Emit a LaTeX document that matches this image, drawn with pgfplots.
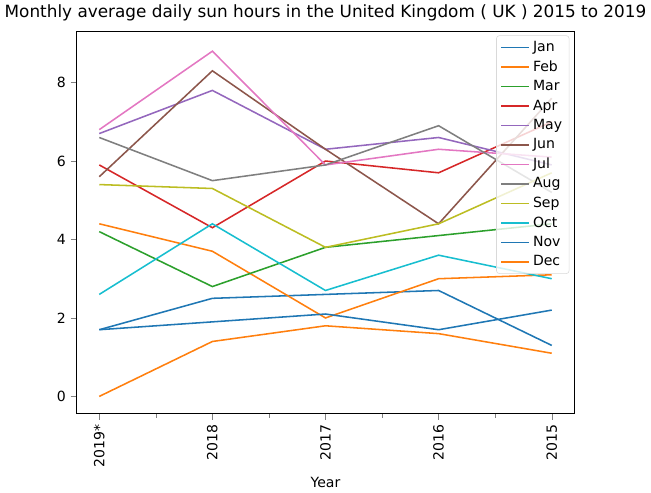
\documentclass[border=0pt]{standalone}
\usepackage{pgfplots}
\pgfplotsset{compat=1.18}
\usepackage{fontspec}
\setmainfont{DejaVu Sans}
\definecolor{c0}{HTML}{1F77B4}\definecolor{c1}{HTML}{FF7F0E}\definecolor{c2}{HTML}{2CA02C}
\definecolor{c3}{HTML}{D62728}\definecolor{c4}{HTML}{9467BD}\definecolor{c5}{HTML}{8C564B}
\definecolor{c6}{HTML}{E377C2}\definecolor{c7}{HTML}{7F7F7F}\definecolor{c8}{HTML}{BCBD22}
\definecolor{c9}{HTML}{17BECF}
\begin{document}
\begin{tikzpicture}
\begin{axis}[
  width=353bp, height=271bp, scale only axis,
  xmin=-0.2, xmax=4.2, ymin=-0.44, ymax=9.3,
  xtick={0,1,2,3,4}, xticklabels={2019*,2018,2017,2016,2015},
  minor xtick={0.5,1.5,2.5,3.5},
  xticklabel style={rotate=90, anchor=east},
  ytick={0,2,4,6,8},
  tick align=outside, tick pos=left,
  /pgf/number format/assume math mode=true,
  tick label style={font=\fontsize{10}{12}\selectfont},
  xlabel={Year}, xlabel style={font=\fontsize{10}{12}\selectfont},
  title={Monthly average daily sun hours in the United Kingdom ( UK ) 2015 to 2019},
  title style={font=\fontsize{12}{14}\selectfont, yshift=-2pt},
  legend pos=north east,
  legend style={font=\fontsize{10}{12}\selectfont, draw=black!15, rounded corners=2pt, row sep=1pt, fill opacity=0.8, text opacity=1, at={(0.99,0.99)}},
  legend image code/.code={\draw[#1] (0cm,0cm) -- (0.7cm,0cm);},
  legend cell align=left,
  every axis plot/.append style={line width=1.1pt},
  no markers,
]
\addplot[c0] coordinates {(0,1.7)(1,2.5)(2,2.6)(3,2.7)(4,1.3)};
\addplot[c1] coordinates {(0,4.4)(1,3.7)(2,2.0)(3,3.0)(4,3.1)};
\addplot[c2] coordinates {(0,4.2)(1,2.8)(2,3.8)(3,4.1)(4,4.4)};
\addplot[c3] coordinates {(0,5.9)(1,4.3)(2,6.0)(3,5.7)(4,7.0)};
\addplot[c4] coordinates {(0,6.7)(1,7.8)(2,6.3)(3,6.6)(4,5.9)};
\addplot[c5] coordinates {(0,5.6)(1,8.3)(2,6.3)(3,4.4)(4,7.6)};
\addplot[c6] coordinates {(0,6.8)(1,8.8)(2,5.9)(3,6.3)(4,6.1)};
\addplot[c7] coordinates {(0,6.6)(1,5.5)(2,5.9)(3,6.9)(4,5.2)};
\addplot[c8] coordinates {(0,5.4)(1,5.3)(2,3.8)(3,4.4)(4,5.7)};
\addplot[c9] coordinates {(0,2.6)(1,4.4)(2,2.7)(3,3.6)(4,3.0)};
\addplot[c0] coordinates {(0,1.7)(1,1.9)(2,2.1)(3,1.7)(4,2.2)};
\addplot[c1] coordinates {(0,0.0)(1,1.4)(2,1.8)(3,1.6)(4,1.1)};
\legend{Jan,Feb,Mar,Apr,May,Jun,Jul,Aug,Sep,Oct,Nov,Dec}
\end{axis}
\end{tikzpicture}
\end{document}
